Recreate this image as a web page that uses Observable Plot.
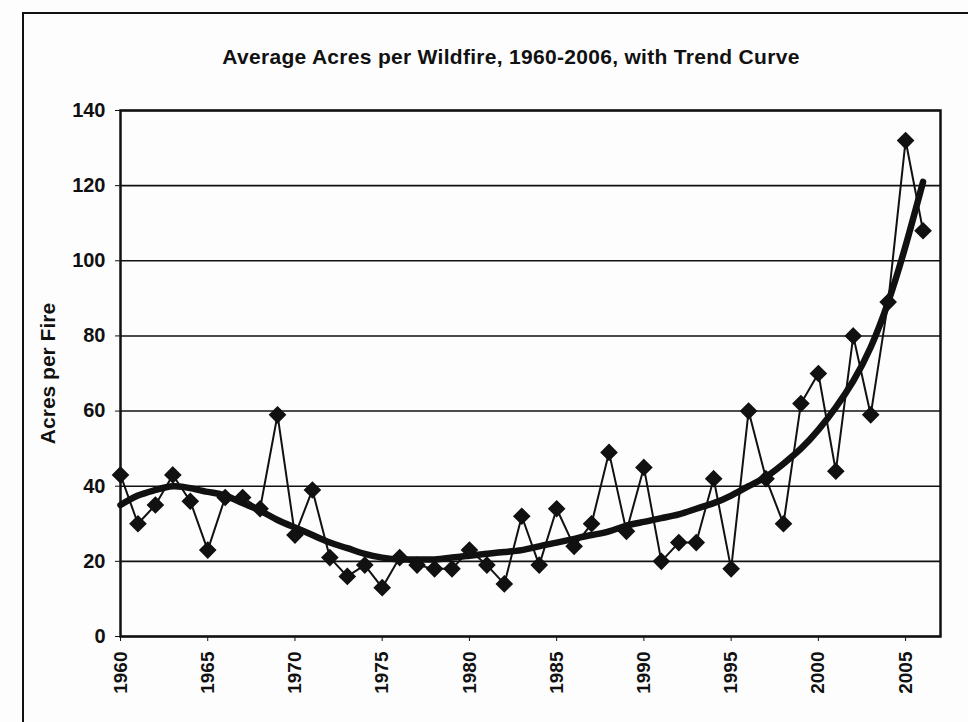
<!DOCTYPE html>
<html>
<head>
<meta charset="utf-8">
<script src="https://cdn.jsdelivr.net/npm/d3@7"></script>
<script src="https://cdn.jsdelivr.net/npm/@observablehq/plot@0.6"></script>
<style>
  html, body { margin: 0; padding: 0; background: #fdfdfd; }
  #wrap { position: relative; width: 968px; height: 722px; overflow: hidden; font-family: "Liberation Sans", Arial, sans-serif; }
  #border { position: absolute; left: 22px; top: 12px; width: 960px; height: 720px; border-left: 2px solid #111; border-top: 2px solid #111; }
  #title { position: absolute; left: 0; width: 1022px; top: 45px; text-align: center; font-size: 21px; font-weight: bold; color: #111; letter-spacing: 0.3px; }
  #chart { position: absolute; left: 0; top: 0; }
</style>
</head>
<body>
<div id="wrap">
  <div id="border"></div>
  <div id="title">Average Acres per Wildfire, 1960-2006, with Trend Curve</div>
  <div id="chart"></div>
</div>
<script>
const years = [1960,1961,1962,1963,1964,1965,1966,1967,1968,1969,
               1970,1971,1972,1973,1974,1975,1976,1977,1978,1979,
               1980,1981,1982,1983,1984,1985,1986,1987,1988,1989,
               1990,1991,1992,1993,1994,1995,1996,1997,1998,1999,
               2000,2001,2002,2003,2004,2005,2006];
const acresPerFire = [43,30,35,43,36,23,37,37,34,59,
                      27,39,21,16,19,13,21,19,18,18,
                      23,19,14,32,19,34,24,30,49,28,
                      45,20,25,25,42,18,60,42,30,62,
                      70,44,80,59,89,132,108];
const trendCurve = [35,37.5,39,40,39.5,38.5,37.5,35.5,33.5,31,
                    29,27,25,23.5,22,21,20.5,20.5,20.5,21,
                    21.5,22,22.5,23,24,25,26,27,28,29.5,
                    30.5,31.5,32.5,34,35.5,37.5,40,42.5,46,50,
                    55,61,68,77,89,104,121];
const yTicks = [0,20,40,60,80,100,120,140];
const xTicks = [1960,1965,1970,1975,1980,1985,1990,1995,2000,2005];

const data = years.map((y, i) => ({year: y, value: acresPerFire[i], trend: trendCurve[i]}));

const chart = Plot.plot({
  width: 968,
  height: 722,
  marginLeft: 120,
  marginRight: 28,
  marginTop: 110,
  marginBottom: 86,
  style: {background: "transparent", fontFamily: "Liberation Sans, Arial, sans-serif", color: "#111"},
  x: {domain: [1960, 2007]},
  y: {domain: [0, 140]},
  marks: [
    Plot.ruleY(yTicks, {stroke: "#111", strokeWidth: 1.6}),
    Plot.axisY({ticks: yTicks, tickSize: 5, tickPadding: 10, fontSize: 20, fontWeight: "bold",
      label: "Acres per Fire", labelAnchor: "center", labelArrow: "none", labelOffset: 80}),
    Plot.axisX({ticks: xTicks, tickFormat: "d", tickSize: 5, tickRotate: -90, tickPadding: 10,
      fontSize: 19, fontWeight: "bold", label: null}),
    Plot.lineY(data, {x: "year", y: "value", stroke: "#111", strokeWidth: 2}),
    Plot.lineY(data, {x: "year", y: "trend", stroke: "#111", strokeWidth: 6.5, curve: "natural"}),
    Plot.dot(data, {x: "year", y: "value", symbol: "diamond2", r: 7, fill: "#111", stroke: "#111"}),
    Plot.frame({stroke: "#111", strokeWidth: 2.5})
  ]
});
chart.querySelectorAll("g[aria-label='y-axis label'] text").forEach(t => {
  t.setAttribute("font-size", 21); t.setAttribute("font-weight", "bold");
});
document.getElementById("chart").appendChild(chart);
</script>
</body>
</html>
